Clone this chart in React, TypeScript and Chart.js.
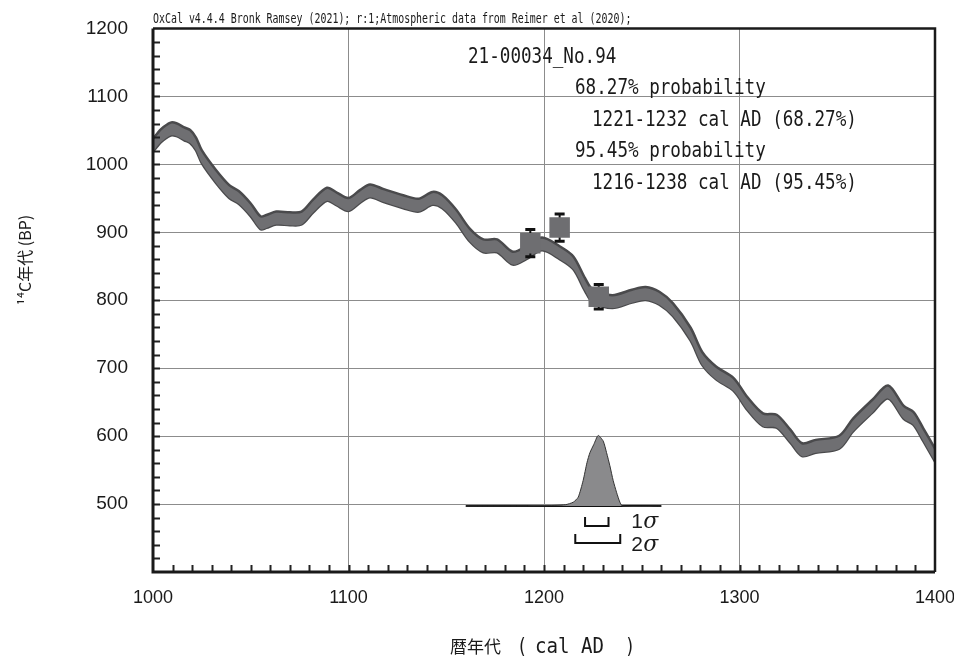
import React, { useEffect, useRef } from 'react';
import { Chart, registerables } from 'chart.js';

Chart.register(...registerables);

// ---- Data ----
const TITLE = 'OxCal v4.4.4 Bronk Ramsey (2021); r:1;Atmospheric data from Reimer et al (2020);';
const SAMPLE = '21-00034_No.94';
const INFO_LINES = ['68.27% probability', '1221-1232 cal AD (68.27%)', '95.45% probability', '1216-1238 cal AD (95.45%)'];

const CURVE_YEARS = [1000, 1004, 1009, 1012, 1016, 1019, 1022, 1025, 1032, 1039, 1044, 1050, 1055, 1058, 1063, 1070, 1076, 1082, 1089, 1094, 1100, 1106, 1111, 1118, 1128, 1136, 1143, 1148, 1155, 1162, 1169, 1176, 1184, 1191, 1199, 1208, 1215, 1221, 1225, 1235, 1245, 1252, 1259, 1266, 1275, 1281, 1288, 1297, 1304, 1312, 1319, 1326, 1332, 1339, 1351, 1358, 1368, 1376, 1384, 1389, 1394, 1400];
const CURVE_BP = [1028, 1042, 1052, 1051, 1045, 1041, 1030, 1011, 983, 960, 951, 933, 914, 916, 921, 920, 921, 939, 956, 949, 941, 953, 961, 954, 945, 940, 950, 945, 924, 896, 880, 880, 862, 870, 883, 870, 855, 823, 806, 798, 806, 810, 803, 786, 750, 714, 693, 676, 648, 624, 622, 600, 580, 585, 591, 616, 644, 665, 635, 626, 602, 572];
const CURVE_SIGMA = 9.5;

const DATE_YEARS = [1193, 1208, 1228];
const DATE_BP = [884, 907, 805];
const DATE_ERR = [20, 20, 18];

const DIST_YEARS = [1160, 1200, 1211, 1215, 1217.5, 1220, 1222, 1223.5, 1225.5, 1227.7, 1230.3, 1232, 1233.7, 1235.4, 1237.1, 1238.8, 1240.2, 1260];
const DIST_PROB = [0, 0.005, 0.02, 0.056, 0.126, 0.36, 0.617, 0.757, 0.874, 1.0, 0.92, 0.757, 0.57, 0.36, 0.196, 0.056, 0, 0];

const RANGE_1S = [1221, 1232];
const RANGE_2S = [1216, 1238];

const X_TICKS = [1000, 1100, 1200, 1300, 1400];
const Y_TICKS = [500, 600, 700, 800, 900, 1000, 1100, 1200];

// ---- Style / layout ----
const MONO = "'DejaVu Sans Mono', 'Noto Sans CJK JP', monospace";
const CJK = "'Noto Sans CJK JP', sans-serif";
const DIST_BASE = 497;
const DIST_HEIGHT = 104;
const BAND_FILL = '#6f6f72';
const BAND_EDGE = '#4a4a4c';

function drawScaled(ctx: CanvasRenderingContext2D, text: string, x: number, y: number, size: number, sx: number, align: CanvasTextAlign = 'left', font = MONO) {
  ctx.save();
  ctx.font = `${size}px ${font}`;
  ctx.textAlign = align;
  ctx.textBaseline = 'alphabetic';
  ctx.translate(x, y);
  ctx.scale(sx, 1);
  ctx.fillText(text, 0, 0);
  ctx.restore();
}

const decorPlugin = {
  id: 'decor',
  beforeDatasetDraw(chart: any, args: any) {
    if (args.index !== 0) return;
    const { ctx } = chart;
    const xs = chart.scales.x;
    const ys = chart.scales.y;
    ctx.save();
    ctx.strokeStyle = '#111';
    DATE_YEARS.forEach((yr, i) => {
      const px = xs.getPixelForValue(yr);
      const t = ys.getPixelForValue(DATE_BP[i] + DATE_ERR[i]);
      const b = ys.getPixelForValue(DATE_BP[i] - DATE_ERR[i]);
      ctx.lineWidth = 2;
      ctx.beginPath();
      ctx.moveTo(px, t);
      ctx.lineTo(px, b);
      ctx.stroke();
      ctx.lineWidth = 3;
      ctx.beginPath();
      ctx.moveTo(px - 5, t);
      ctx.lineTo(px + 5, t);
      ctx.moveTo(px - 5, b);
      ctx.lineTo(px + 5, b);
      ctx.stroke();
    });
    ctx.restore();
  },
  afterDraw(chart: any) {
    const { ctx, chartArea: a } = chart;
    const xs = chart.scales.x;
    const ys = chart.scales.y;
    ctx.save();
    // minor ticks
    ctx.strokeStyle = '#222';
    ctx.lineWidth = 2;
    ctx.beginPath();
    for (let v = 420; v < 1200; v += 20) {
      const py = Math.round(ys.getPixelForValue(v)) + 0.5;
      ctx.moveTo(a.left, py);
      ctx.lineTo(a.left + 7, py);
    }
    for (let v = 1010; v < 1400; v += 10) {
      const px = Math.round(xs.getPixelForValue(v)) + 0.5;
      ctx.moveTo(px, a.bottom);
      ctx.lineTo(px, a.bottom - 7);
    }
    ctx.stroke();
    // frame
    ctx.strokeStyle = '#1a1a1a';
    ctx.lineWidth = 3;
    ctx.beginPath();
    ctx.moveTo(a.left, a.top);
    ctx.lineTo(a.left, a.bottom);
    ctx.lineTo(a.right, a.bottom);
    ctx.stroke();
    ctx.lineWidth = 2.5;
    ctx.beginPath();
    ctx.moveTo(a.left, a.top);
    ctx.lineTo(a.right, a.top);
    ctx.lineTo(a.right, a.bottom);
    ctx.stroke();

    // sigma brackets
    const base = ys.getPixelForValue(DIST_BASE);
    ctx.lineWidth = 2;
    ctx.strokeStyle = '#111';
    const bracket = (r: number[], off: number) => {
      const x1 = xs.getPixelForValue(r[0]);
      const x2 = xs.getPixelForValue(r[1] + 1);
      const yb = base + off;
      ctx.beginPath();
      ctx.moveTo(x1, yb - 9);
      ctx.lineTo(x1, yb);
      ctx.lineTo(x2, yb);
      ctx.lineTo(x2, yb - 9);
      ctx.stroke();
    };
    bracket(RANGE_1S, 20);
    bracket(RANGE_2S, 37);

    ctx.fillStyle = '#1a1a1a';
    const lx = xs.getPixelForValue(RANGE_2S[1] + 1) + 11;
    ctx.font = "21px 'Liberation Sans', sans-serif";
    ctx.textBaseline = 'alphabetic';
    ctx.textAlign = 'left';
    ctx.fillText('1', lx, base + 22);
    ctx.fillText('2', lx, base + 45);
    ctx.font = "italic 22px 'DejaVu Serif', serif";
    ctx.fillText('σ', lx + 12, base + 22);
    ctx.fillText('σ', lx + 12, base + 45);

    // header and annotation text
    drawScaled(ctx, TITLE, a.left, 23, 14.5, 0.685);
    drawScaled(ctx, SAMPLE, 468, 62.5, 22, 0.8);
    drawScaled(ctx, INFO_LINES[0], 575, 94, 22, 0.8);
    drawScaled(ctx, INFO_LINES[1], 592, 125.5, 22, 0.8);
    drawScaled(ctx, INFO_LINES[2], 575, 157, 22, 0.8);
    drawScaled(ctx, INFO_LINES[3], 592, 188.5, 22, 0.8);

    // x axis title
    ctx.font = `17px ${CJK}`;
    ctx.textAlign = 'left';
    ctx.fillText('暦年代', 450, 653);
    drawScaled(ctx, '(', 517, 653, 21, 0.8);
    drawScaled(ctx, 'cal AD', 535, 653, 22, 0.87);
    drawScaled(ctx, ')', 625, 653, 21, 0.8);

    // y axis title
    ctx.save();
    ctx.translate(25, 260);
    ctx.rotate(-Math.PI / 2);
    ctx.font = `16px ${CJK}`;
    ctx.textAlign = 'center';
    ctx.textBaseline = 'middle';
    ctx.fillText('¹⁴C年代 (BP)', 0, 0);
    ctx.restore();
    ctx.restore();
  },
};

export default function App() {
  const ref = useRef<HTMLCanvasElement>(null);
  useEffect(() => {
    document.body.style.margin = '0';
    const canvas = ref.current;
    if (!canvas) return;
    const upper = CURVE_YEARS.map((x, i) => ({ x, y: CURVE_BP[i] + CURVE_SIGMA }));
    const lower = CURVE_YEARS.map((x, i) => ({ x, y: CURVE_BP[i] - CURVE_SIGMA }));
    const dates = DATE_YEARS.map((x, i) => ({ x, y: DATE_BP[i] }));
    const dist = DIST_YEARS.map((x, i) => ({ x, y: DIST_BASE + DIST_HEIGHT * DIST_PROB[i] }));
    const baseLine = [{ x: DIST_YEARS[0], y: DIST_BASE }, { x: DIST_YEARS[DIST_YEARS.length - 1], y: DIST_BASE }];

    const zeroPad = (s: any) => { s.paddingLeft = 0; s.paddingRight = 0; s.paddingTop = 0; s.paddingBottom = 0; };

    const chart = new Chart(canvas, {
      type: 'scatter',
      data: {
        datasets: [
          {
            label: 'Dates',
            data: dates,
            pointStyle: 'rect',
            pointRadius: 14.5,
            pointHoverRadius: 14.5,
            backgroundColor: '#6e6e71',
            borderWidth: 0,
            order: 0,
          } as any,
          {
            label: 'Probability',
            data: dist,
            showLine: true,
            pointRadius: 0,
            borderColor: '#333',
            borderWidth: 1,
            backgroundColor: '#8a8a8c',
            fill: { value: DIST_BASE },
            tension: 0.2,
            order: 1,
          },
          {
            label: 'Baseline',
            data: baseLine,
            showLine: true,
            pointRadius: 0,
            borderColor: '#111',
            borderWidth: 2,
            fill: false,
            order: 1,
          },
          {
            label: 'Curve upper',
            data: upper,
            showLine: true,
            pointRadius: 0,
            borderColor: BAND_EDGE,
            borderWidth: 2.5,
            backgroundColor: BAND_FILL,
            fill: '+1',
            tension: 0.3,
            order: 3,
          },
          {
            label: 'Curve lower',
            data: lower,
            showLine: true,
            pointRadius: 0,
            borderColor: BAND_EDGE,
            borderWidth: 2.5,
            fill: false,
            tension: 0.3,
            order: 3,
          },
        ],
      },
      options: {
        responsive: false,
        animation: false,
        devicePixelRatio: 1,
        layout: { padding: { left: 0, right: 19, top: 28.5, bottom: 0 } },
        plugins: { legend: { display: false }, tooltip: { enabled: false } },
        scales: {
          x: {
            type: 'linear',
            min: 1000,
            max: 1400,
            afterBuildTicks: (s: any) => { s.ticks = X_TICKS.map((v) => ({ value: v })); },
            afterFit: (s: any) => { s.height = 86; zeroPad(s); },
            ticks: { font: { family: "'Liberation Sans', Arial, sans-serif", size: 18 }, color: '#1a1a1a', padding: 15, maxRotation: 0, callback: (v: any) => String(v) },
            grid: { color: '#8c8c8c', lineWidth: 1, drawTicks: false },
            border: { display: false },
          },
          y: {
            type: 'linear',
            min: 400,
            max: 1200,
            afterBuildTicks: (s: any) => { s.ticks = Y_TICKS.map((v) => ({ value: v })); },
            afterFit: (s: any) => { s.width = 153; zeroPad(s); },
            ticks: { font: { family: "'Liberation Sans', Arial, sans-serif", size: 19 }, color: '#1a1a1a', padding: 25, callback: (v: any) => String(v) },
            grid: { color: '#8c8c8c', lineWidth: 1, drawTicks: false },
            border: { display: false },
          },
        },
      },
      plugins: [decorPlugin],
    });
    return () => chart.destroy();
  }, []);
  return (
    <div style={{ position: 'absolute', left: 0, top: 0, width: 954, height: 658 }}>
      <canvas ref={ref} width={954} height={658} style={{ display: 'block', width: 954, height: 658 }} />
    </div>
  );
}
